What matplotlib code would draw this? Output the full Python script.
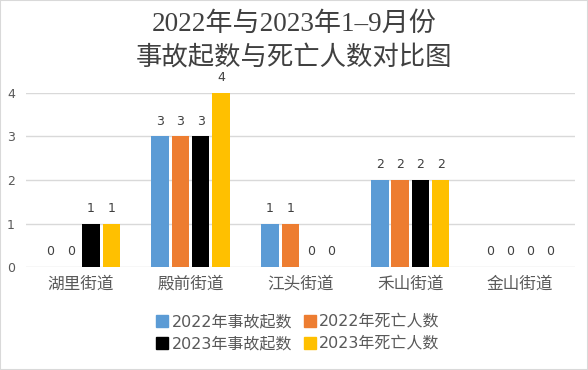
import matplotlib.pyplot as plt
import numpy as np

plt.rcParams['font.family'] = ['Noto Sans CJK SC', 'DejaVu Sans']

streets = ['湖里街道', '殿前街道', '江头街道', '禾山街道', '金山街道']
series = ['2022年事故起数', '2022年死亡人数', '2023年事故起数', '2023年死亡人数']
acc_2022 = [0, 3, 1, 2, 0]
death_2022 = [0, 3, 1, 2, 0]
acc_2023 = [1, 3, 0, 2, 0]
death_2023 = [1, 4, 0, 2, 0]
colors = ['#5b9bd5', '#ed7d31', '#000000', '#ffc000']

fig = plt.figure(figsize=(5.88, 3.70), dpi=100)
ax = fig.add_axes([0.044, 0.278, 0.934, 0.471])

x = np.arange(len(streets))
step = 0.185
width = 0.158
values = [acc_2022, death_2022, acc_2023, death_2023]
for i, (vals, c, name) in enumerate(zip(values, colors, series)):
    pos = x + (i - 1.5) * step
    ax.bar(pos, vals, width, color=c, label=name, zorder=3)
    for p, v in zip(pos, vals):
        ax.text(p, v + 0.2, str(v), ha='center', va='bottom', fontsize=9,
                color='#404040', family=['DejaVu Sans'])

ax.set_xlim(-0.5, 4.5)
ax.set_ylim(0, 4)
ax.set_yticks([0, 1, 2, 3, 4])
ax.set_xticks(x)
ax.set_xticklabels(streets, fontsize=12, color='#595959')
ax.tick_params(axis='y', labelsize=9, labelcolor='#595959', length=0, pad=8)
ax.tick_params(axis='x', length=0, pad=6)
for t in ax.get_yticklabels():
    t.set_family(['DejaVu Sans'])
ax.grid(axis='y', color='#d9d9d9', linewidth=1, zorder=0)
for s in ax.spines.values():
    s.set_visible(False)

title_font = ['Liberation Serif', 'Noto Sans CJK SC']
fig.text(0.5, 0.935, '2022年与2023年1–9月份', ha='center', va='center',
         fontsize=19.5, color='#404040', family=title_font)
fig.text(0.5, 0.847, '事故起数与死亡人数对比图', ha='center', va='center',
         fontsize=19, color='#404040', family=title_font)

# legend fills by column, so order handles to get rows of 2022 / 2023
order = [0, 2, 1, 3]
handles = [plt.Line2D([], [], marker='s', linestyle='', markersize=9, color=colors[k]) for k in order]
labels = [series[k] for k in order]
fig.legend(handles, labels, loc='center', bbox_to_anchor=(0.505, 0.1), ncol=2,
           frameon=False, prop={'family': ['DejaVu Sans', 'Noto Sans CJK SC'], 'size': 11.5},
           labelcolor='#595959', handletextpad=0.1,
           columnspacing=0.6, handlelength=1.0, labelspacing=0.45)

fig.patches.append(plt.Rectangle((0, 0), 1, 1, transform=fig.transFigure, fill=False,
                                 edgecolor='#d9d9d9', linewidth=1.5))

fig.savefig('out.png', dpi=100)
